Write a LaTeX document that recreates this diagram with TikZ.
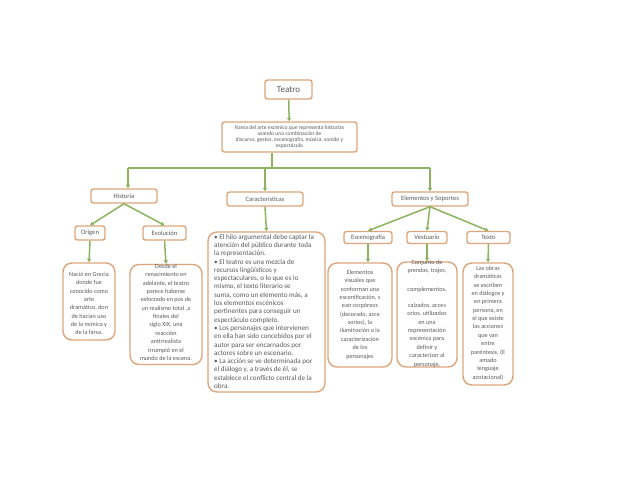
\documentclass[tikz,border=0pt]{standalone}
\usepackage{fontspec}
\setmainfont{Carlito}
\usetikzlibrary{arrows.meta}
\definecolor{boxc}{HTML}{DDA57C}
\definecolor{grn}{HTML}{8DB35F}
\definecolor{txt}{HTML}{5A5A5A}
\tikzset{
  bx/.style={draw=boxc, line width=1.4pt, rounded corners=2.5pt, fill=white, text=txt, inner sep=0pt, align=center},
  lbl/.style={bx, font=\fontsize{6.6}{7}\selectfont},
  leafbox/.style={draw=boxc, line width=1.4pt, rounded corners=9pt, fill=white, inner sep=0pt},
  leaftext/.style={text=txt, inner sep=0pt, align=center, anchor=north, font=\fontsize{6.2}{8.35}\selectfont},
  arr/.style={draw=grn, line width=1.5pt, -{Triangle[length=3.5pt,width=4pt]}},
  ln/.style={draw=grn, line width=1.5pt},
}
\begin{document}
\begin{tikzpicture}[x=1pt,y=-1pt]
\path[use as bounding box, fill=white] (0,0) rectangle (638,493);

% top
\node[bx, minimum width=47pt, minimum height=19pt, font=\fontsize{9}{10}\selectfont] (teatro) at (288.5,89.5) {Teatro};
\node[bx, minimum width=135pt, minimum height=30pt, font=\fontsize{5.6}{6.1}\selectfont] (rama) at (289.5,137)
 {Rama del arte escénico que representa historias\\usando una combinación de\\discurso, gestos, escenografía, música, sonido y\\espectáculo};
\draw[arr] (teatro) -- (rama);

% level 2
\node[lbl, minimum width=66pt, minimum height=14pt] (historia) at (124,196) {Historia};
\node[lbl, minimum width=76pt, minimum height=14pt] (carac) at (265,199) {Características};
\node[lbl, minimum width=76pt, minimum height=14pt] (elem) at (430,199) {Elementos y Soportes};

\coordinate (j) at (272,168);
\coordinate (jh) at (128,168);
\coordinate (jc) at (265,168);
\coordinate (je) at (430,168);
\draw[ln] (rama.south -| j) -- (j);
\draw[ln] (jh) -- (je);
\draw[arr] (jh) -- (jh |- historia.north);
\draw[arr] (jc) -- (carac.north);
\draw[arr] (je) -- (elem.north);

% level 3
\node[lbl, minimum width=30pt, minimum height=14pt] (origen) at (90,233) {Origen};
\node[lbl, minimum width=43pt, minimum height=14pt] (evol) at (164.5,233) {Evolución};
\node[lbl, minimum width=48pt, minimum height=12pt] (esc) at (368,237.5) {Escenografía};
\node[lbl, minimum width=40pt, minimum height=12pt] (vest) at (427,237.5) {Vestuario};
\node[lbl, minimum width=43pt, minimum height=12pt] (texto) at (488.5,237.5) {Texto};

\draw[arr] (historia.south) -- (origen.north);
\draw[arr] (historia.south) -- (evol.north);
\draw[arr] (elem.south) -- (esc.north);
\draw[arr] (elem.south) -- (vest.north);
\draw[arr] (elem.south) -- (texto.north);

% leaves
\node[leafbox, minimum width=52pt, minimum height=77pt] (origenL) at (89,301.5) {};
\node[leafbox, minimum width=72pt, minimum height=100pt] (evolL) at (166,314.5) {};
\node[leafbox, minimum width=117pt, minimum height=160pt] (caracL) at (266.5,312) {};
\node[leafbox, minimum width=64pt, minimum height=104pt] (escL) at (360,315) {};
\node[leafbox, minimum width=60pt, minimum height=105pt] (vestL) at (427,314.5) {};
\node[leafbox, minimum width=50pt, minimum height=122pt] (textoL) at (488,324) {};

\draw[arr] (origen.south) -- (origenL.north);
\draw[arr] (evol.south) -- (evolL.north);
\draw[arr] (carac.south) -- (caracL.north);
\draw[arr] (esc.south) -- (esc.south |- escL.north);
\draw[arr] (vest.south) -- (vestL.north);
\draw[arr] (texto.south) -- (textoL.north);

\node[leaftext] (origenT) at (89,272) {Nació en Grecia\\donde fue\\conocido como\\arte\\dramático, don\\de hacían uso\\de la mímica y\\de la farsa.};
\node[leaftext] (evolT) at (166,264) {Desde el\\renacimiento en\\adelante, el teatro\\parece haberse\\esforzado en pos de\\un realismo total ,a\\finales del\\siglo XIX, una\\reacción\\antirrealista\\irrumpió en el\\mundo de la escena.};
\node[leaftext, align=left, anchor=north west, font=\fontsize{7.1}{8.3}\selectfont] (caracT) at (214,234)
 {• El hilo argumental debe captar la\\atención del público durante toda\\la representación.\\• El teatro es una mezcla de\\recursos lingüísticos y\\espectaculares, o lo que es lo\\mismo, el texto literario se\\suma, como un elemento más, a\\los elementos escénicos\\pertinentes para conseguir un\\espectáculo completo.\\• Los personajes que intervienen\\en ella han sido concebidos por el\\autor para ser encarnados por\\actores sobre un escenario.\\• La acción se ve determinada por\\el diálogo y, a través de él, se\\establece el conflicto central de la\\obra.};
\node[leaftext] (escT) at (360,270) {Elementos\\visuales que\\conforman una\\escenificación, s\\ean corpóreos\\(decorado, acce\\sorios), la\\iluminación o la\\caracterización\\de los\\personajes};
\node[leaftext] (vestT) at (427,260) {Conjunto de\\prendas, trajes,\\[10pt]complementos,\\[8pt]calzados, acces\\orios, utilizados\\en una\\representación\\escénica para\\definir y\\caracterizar al\\personaje.};
\node[leaftext] (textoT) at (488,266) {Las obras\\dramáticas\\se escriben\\en diálogos y\\en primera\\persona, en\\el que existe\\las acciones\\que van\\entre\\paréntesis, (ll\\amado\\lenguaje\\acotacional)};
\end{tikzpicture}
\end{document}
